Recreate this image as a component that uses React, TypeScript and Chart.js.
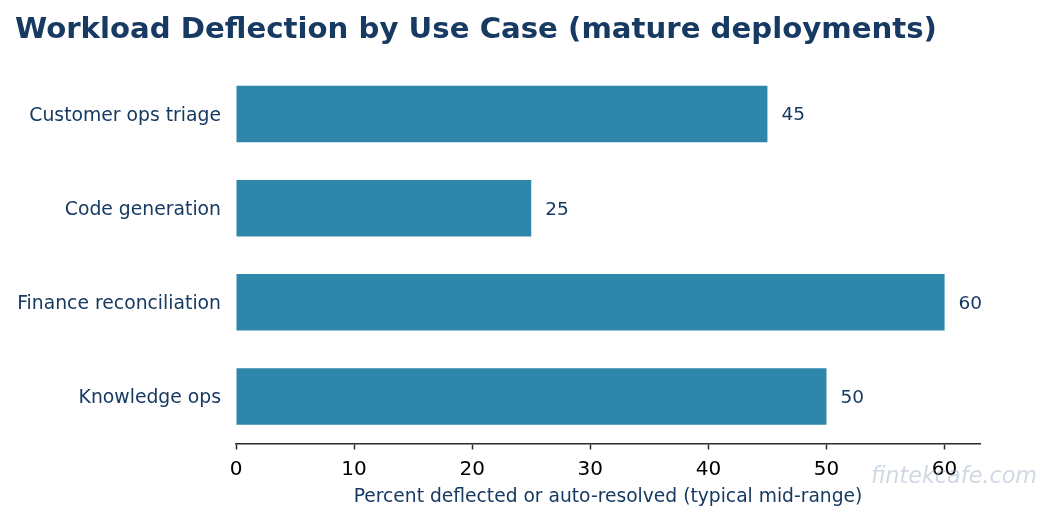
import { useEffect, useRef } from 'react';
import { Chart, registerables } from 'chart.js';

Chart.register(...registerables);

// data
const useCases = ['Customer ops triage', 'Code generation', 'Finance reconciliation', 'Knowledge ops'];
const deflectionPct = [45, 25, 60, 50];
const xTicks = [0, 10, 20, 30, 40, 50, 60];

const NAVY = '#173a63';
const BAR = '#2e86ab';
const FONT = '"DejaVu Sans", sans-serif';

// title, value labels, watermark drawn by hand
const extrasPlugin = {
  id: 'extras',
  afterDraw(chart: Chart) {
    const { ctx } = chart;
    ctx.save();
    ctx.fillStyle = NAVY;
    ctx.font = `bold 29.2px ${FONT}`;
    ctx.textAlign = 'left';
    ctx.textBaseline = 'alphabetic';
    ctx.fillText('Workload Deflection by Use Case (mature deployments)', 15, 38);

    const meta = chart.getDatasetMeta(0);
    ctx.font = `18.5px ${FONT}`;
    ctx.textBaseline = 'middle';
    meta.data.forEach((bar: any, i: number) => {
      ctx.fillText(String(deflectionPct[i]), bar.x + 14, bar.y + 1.5);
    });

    ctx.font = `italic 22.3px ${FONT}`;
    ctx.fillStyle = 'rgba(150, 170, 192, 0.45)';
    ctx.textAlign = 'center';
    ctx.fillText('fintekcafe.com', 954, 477);
    ctx.restore();
  },
};

const App = () => {
  const canvasRef = useRef<HTMLCanvasElement>(null);
  const chartRef = useRef<Chart | null>(null);

  useEffect(() => {
    document.body.style.margin = '0';
    if (!canvasRef.current) return;
    if (chartRef.current) chartRef.current.destroy();

    chartRef.current = new Chart(canvasRef.current, {
      type: 'bar',
      data: {
        labels: useCases,
        datasets: [
          {
            data: deflectionPct,
            backgroundColor: BAR,
            barPercentage: 0.6,
            categoryPercentage: 1,
          },
        ],
      },
      options: {
        indexAxis: 'y',
        animation: false,
        responsive: true,
        maintainAspectRatio: false,
        layout: { padding: { top: 67, right: 74, left: 0, bottom: 0 } },
        plugins: {
          legend: { display: false },
          tooltip: { enabled: false },
        },
        scales: {
          x: {
            min: 0,
            max: 63,
            afterBuildTicks: (s: any) => {
              s.ticks = xTicks.map((v) => ({ value: v }));
            },
            afterFit: (s: any) => {
              s.height = 76.5;
            },
            grid: {
              display: true,
              drawOnChartArea: false,
              drawTicks: true,
              tickLength: 6,
              tickColor: '#2b2b2b',
              tickWidth: 1.5,
            },
            border: { display: true, color: '#2b2b2b', width: 1.5 },
            ticks: {
              color: '#000000',
              padding: 8,
              font: { family: FONT, size: 20 },
            },
            title: {
              display: true,
              text: 'Percent deflected or auto-resolved (typical mid-range)',
              color: NAVY,
              font: { family: FONT, size: 18.7 },
              padding: { top: 4, bottom: 12 },
            },
          },
          y: {
            afterFit: (s: any) => {
              s.width = 236;
            },
            grid: { display: false },
            border: { display: false },
            ticks: {
              color: NAVY,
              padding: 7,
              labelOffset: 2,
              font: { family: FONT, size: 18.8 },
            },
          },
        },
      },
      plugins: [extrasPlugin],
    });

    return () => {
      if (chartRef.current) {
        chartRef.current.destroy();
        chartRef.current = null;
      }
    };
  }, []);

  return (
    <div style={{ position: 'relative', width: '1054px', height: '520px' }}>
      <canvas ref={canvasRef}></canvas>
    </div>
  );
};

export default App;
